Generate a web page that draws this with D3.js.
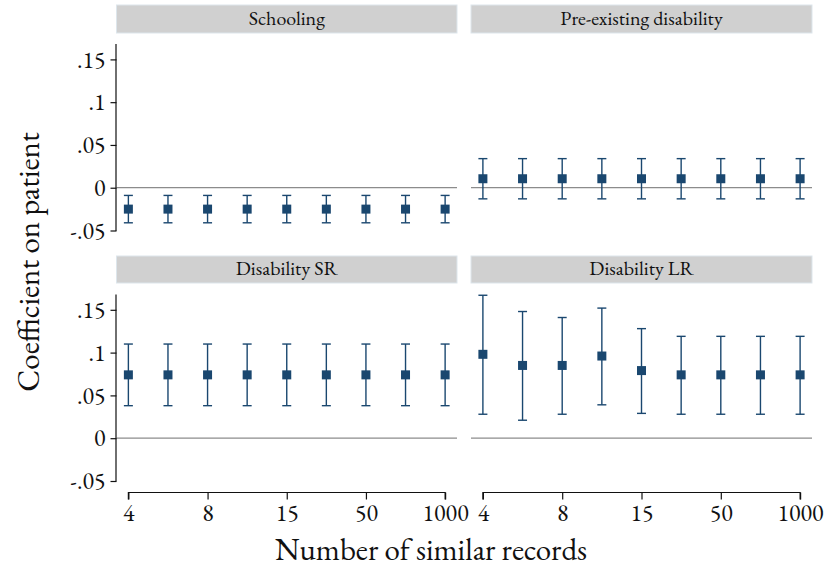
<!DOCTYPE html>
<html>
<head>
<meta charset="utf-8">
<script src="https://cdn.jsdelivr.net/npm/d3@7"></script>
<style>
  html, body { margin: 0; padding: 0; background: #fff; }
</style>
</head>
<body>
<svg id="chart" width="835" height="569"></svg>
<script>
// ---- data ----
const positions = [1, 2, 3, 4, 5, 6, 7, 8, 9];
const tickPositions = [1, 3, 5, 7, 9];
const tickLabels = ["4", "8", "15", "50", "1000"];
const yTicks = [-0.05, 0, 0.05, 0.1, 0.15];
const yTickLabels = ["-.05", "0", ".05", ".1", ".15"];
const panels = ["Schooling", "Pre-existing disability", "Disability SR", "Disability LR"];

const schoolingCoef = [-0.025, -0.025, -0.025, -0.025, -0.025, -0.025, -0.025, -0.025, -0.025];
const schoolingLo   = [-0.041, -0.041, -0.041, -0.041, -0.041, -0.041, -0.041, -0.041, -0.041];
const schoolingHi   = [-0.009, -0.009, -0.009, -0.009, -0.009, -0.009, -0.009, -0.009, -0.009];

const preCoef = [0.0105, 0.0105, 0.0105, 0.0105, 0.0105, 0.0105, 0.0105, 0.0105, 0.0105];
const preLo   = [-0.013, -0.013, -0.013, -0.013, -0.013, -0.013, -0.013, -0.013, -0.013];
const preHi   = [0.034, 0.034, 0.034, 0.034, 0.034, 0.034, 0.034, 0.034, 0.034];

const srCoef = [0.074, 0.074, 0.074, 0.074, 0.074, 0.074, 0.074, 0.074, 0.074];
const srLo   = [0.038, 0.038, 0.038, 0.038, 0.038, 0.038, 0.038, 0.038, 0.038];
const srHi   = [0.110, 0.110, 0.110, 0.110, 0.110, 0.110, 0.110, 0.110, 0.110];

const lrCoef = [0.098, 0.085, 0.085, 0.096, 0.079, 0.074, 0.074, 0.074, 0.074];
const lrLo   = [0.028, 0.021, 0.028, 0.039, 0.029, 0.028, 0.028, 0.028, 0.028];
const lrHi   = [0.167, 0.148, 0.141, 0.152, 0.128, 0.119, 0.119, 0.119, 0.119];

const series = [
  { coef: schoolingCoef, lo: schoolingLo, hi: schoolingHi },
  { coef: preCoef, lo: preLo, hi: preHi },
  { coef: srCoef, lo: srLo, hi: srHi },
  { coef: lrCoef, lo: lrLo, hi: lrHi }
];

// ---- layout ----
const FONT = "EB Garamond, Liberation Serif, serif";
const svg = d3.select("#chart");
const navy = "#1a476f";
const colX = [[116.5, 457], [471, 812]];
const rowY = [[230.5, 44], [481, 294.4]];
const stripY = [[5, 33], [256, 283]];
const yDomain = [-0.05, 0.168];

panels.forEach((name, i) => {
  const col = i % 2, row = Math.floor(i / 2);
  const [x0, x1] = colX[col];
  const x = d3.scaleLinear().domain([0.7, 9.3]).range([x0, x1]);
  const y = d3.scaleLinear().domain(yDomain).range(rowY[row]);
  const g = svg.append("g");

  // strip
  g.append("rect")
    .attr("x", x0).attr("y", stripY[row][0])
    .attr("width", x1 - x0).attr("height", stripY[row][1] - stripY[row][0])
    .attr("fill", "#d0d0d0").attr("stroke", "#dde6ec").attr("stroke-width", 1);
  g.append("text")
    .attr("x", (x0 + x1) / 2).attr("y", (stripY[row][0] + stripY[row][1]) / 2 + 5.5)
    .attr("text-anchor", "middle").attr("font-size", 20)
    .attr("font-family", FONT).attr("fill", "#111")
    .text(name);

  // zero line
  g.append("line")
    .attr("x1", x0).attr("x2", x1)
    .attr("y1", y(0)).attr("y2", y(0))
    .attr("stroke", "#8c8c8c").attr("stroke-width", 1.2);

  // y axis on left column
  if (col === 0) {
    const ay = g.append("g").attr("transform", `translate(${x0},0)`)
      .call(d3.axisLeft(y).tickValues(yTicks).tickSize(6).tickPadding(5)
        .tickFormat((d, k) => yTickLabels[k]));
    ay.attr("font-family", FONT);
    ay.select(".domain").attr("d", `M-0.5,${y(yDomain[1])}V${y(yDomain[0])}H0`).attr("stroke", "#111").attr("stroke-width", 1.2);
    ay.selectAll(".tick line").attr("stroke", "#111").attr("stroke-width", 1.2);
    ay.selectAll(".tick text").attr("font-size", 24).attr("font-family", FONT).attr("fill", "#111");
  }

  // x axis on bottom row
  if (row === 1) {
    const ax = g.append("g").attr("transform", `translate(0,492.5)`)
      .call(d3.axisBottom(x).tickValues(tickPositions).tickSize(7).tickPadding(4)
        .tickFormat((d, k) => tickLabels[k]));
    ax.attr("font-family", FONT);
    ax.select(".domain").attr("d", `M${x(1)},7V0H${x(9)}V7`).attr("stroke", "#111").attr("stroke-width", 1.2).attr("fill", "none");
    ax.selectAll(".tick line").attr("stroke", "#111").attr("stroke-width", 1.2);
    ax.selectAll(".tick text").attr("font-size", 24).attr("font-family", FONT).attr("fill", "#111");
  }

  const s = series[i];
  const pts = positions.map((p, k) => ({ p, c: s.coef[k], lo: s.lo[k], hi: s.hi[k] }));
  const capW = 4.5;
  const eb = g.append("g").attr("stroke", navy).attr("stroke-width", 1.4).attr("fill", "none");
  eb.selectAll("line.v").data(pts).join("line").attr("class", "v")
    .attr("x1", d => x(d.p)).attr("x2", d => x(d.p))
    .attr("y1", d => y(d.lo)).attr("y2", d => y(d.hi));
  eb.selectAll("line.t").data(pts).join("line").attr("class", "t")
    .attr("x1", d => x(d.p) - capW).attr("x2", d => x(d.p) + capW)
    .attr("y1", d => y(d.hi)).attr("y2", d => y(d.hi));
  eb.selectAll("line.b").data(pts).join("line").attr("class", "b")
    .attr("x1", d => x(d.p) - capW).attr("x2", d => x(d.p) + capW)
    .attr("y1", d => y(d.lo)).attr("y2", d => y(d.lo));
  const ms = 9;
  g.selectAll("rect.m").data(pts).join("rect").attr("class", "m")
    .attr("x", d => x(d.p) - ms / 2).attr("y", d => y(d.c) - ms / 2)
    .attr("width", ms).attr("height", ms)
    .attr("fill", navy);
});

// axis titles
svg.append("text")
  .attr("transform", "translate(39,262) rotate(-90)")
  .attr("text-anchor", "middle").attr("font-size", 31)
  .attr("font-family", FONT).attr("fill", "#111")
  .text("Coefficient on patient");
svg.append("text")
  .attr("x", 431).attr("y", 560)
  .attr("text-anchor", "middle").attr("font-size", 31)
  .attr("font-family", FONT).attr("fill", "#111")
  .text("Number of similar records");
</script>
</body>
</html>
